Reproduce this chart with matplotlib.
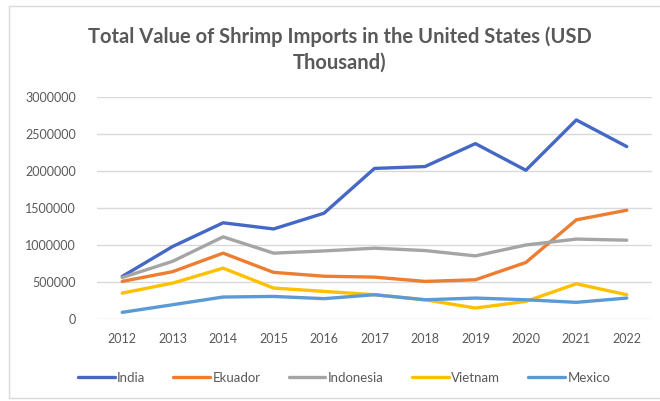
import matplotlib
matplotlib.use("Agg")
import matplotlib.pyplot as plt
from matplotlib.patches import Rectangle

years = ["2012", "2013", "2014", "2015", "2016", "2017", "2018", "2019", "2020", "2021", "2022"]
india = [575000, 980000, 1300000, 1217000, 1430000, 2035000, 2060000, 2370000, 2010000, 2690000, 2330000]
ekuador = [508000, 640000, 890000, 630000, 578000, 566000, 508000, 530000, 764000, 1340000, 1470000]
indonesia = [560000, 780000, 1110000, 890000, 920000, 957000, 925000, 853000, 1000000, 1080000, 1065000]
vietnam = [350000, 485000, 687000, 418000, 373000, 328000, 260000, 148000, 238000, 476000, 328000]
mexico = [90000, 193000, 297000, 305000, 275000, 328000, 260000, 283000, 260000, 225000, 283000]

series = [
    ("India", india, "#4468c4"),
    ("Ekuador", ekuador, "#ed7d31"),
    ("Indonesia", indonesia, "#a5a5a5"),
    ("Vietnam", vietnam, "#ffc000"),
    ("Mexico", mexico, "#5b9bd5"),
]

W, H = 660, 401
fig = plt.figure(figsize=(W / 100, H / 100), dpi=100)
plt.rcParams["font.family"] = ["Lato", "DejaVu Sans"]
txt = "#595959"

# chart frame
fig.patches.append(Rectangle((9 / W, 1 - 398 / H), 700 / W, 392 / H, transform=fig.transFigure,
                             facecolor="none", edgecolor="#d9d9d9", linewidth=1, zorder=-1))

ax = fig.add_axes([97 / W, 1 - 319 / H, (652 - 97) / W, (319 - 97) / H])
ax.set_facecolor("none")
x = range(len(years))
for name, vals, col in series:
    ax.plot(x, vals, color=col, linewidth=2.4, label=name, solid_capstyle="round", solid_joinstyle="round")

ax.set_xlim(-0.5, len(years) - 0.5)
ax.set_ylim(0, 3000000)
ax.set_yticks(range(0, 3000001, 500000))
ax.set_yticklabels([str(v) for v in range(0, 3000001, 500000)])
ax.set_xticks(list(x))
ax.set_xticklabels(years)
ax.grid(axis="y", color="#d9d9d9", linewidth=1)
ax.set_axisbelow(True)
for s in ax.spines.values():
    s.set_visible(False)
ax.tick_params(length=0, labelsize=9, colors=txt, pad=10)
ax.tick_params(axis="y", pad=15)

fig.text(340 / W, 1 - 37 / H, "Total Value of Shrimp Imports in the United States (USD",
         ha="center", va="center", fontsize=14.5, fontweight="bold", color=txt)
fig.text(340 / W, 1 - 63 / H, "Thousand)",
         ha="center", va="center", fontsize=14.5, fontweight="bold", color=txt)

leg = fig.legend(loc="center", bbox_to_anchor=(344 / W, 1 - 378 / H), ncol=5,
                 frameon=False, fontsize=9.5, handlelength=2.8, handletextpad=0.2, columnspacing=2.1)
for t in leg.get_texts():
    t.set_color(txt)

fig.savefig("out.png", dpi=100)
